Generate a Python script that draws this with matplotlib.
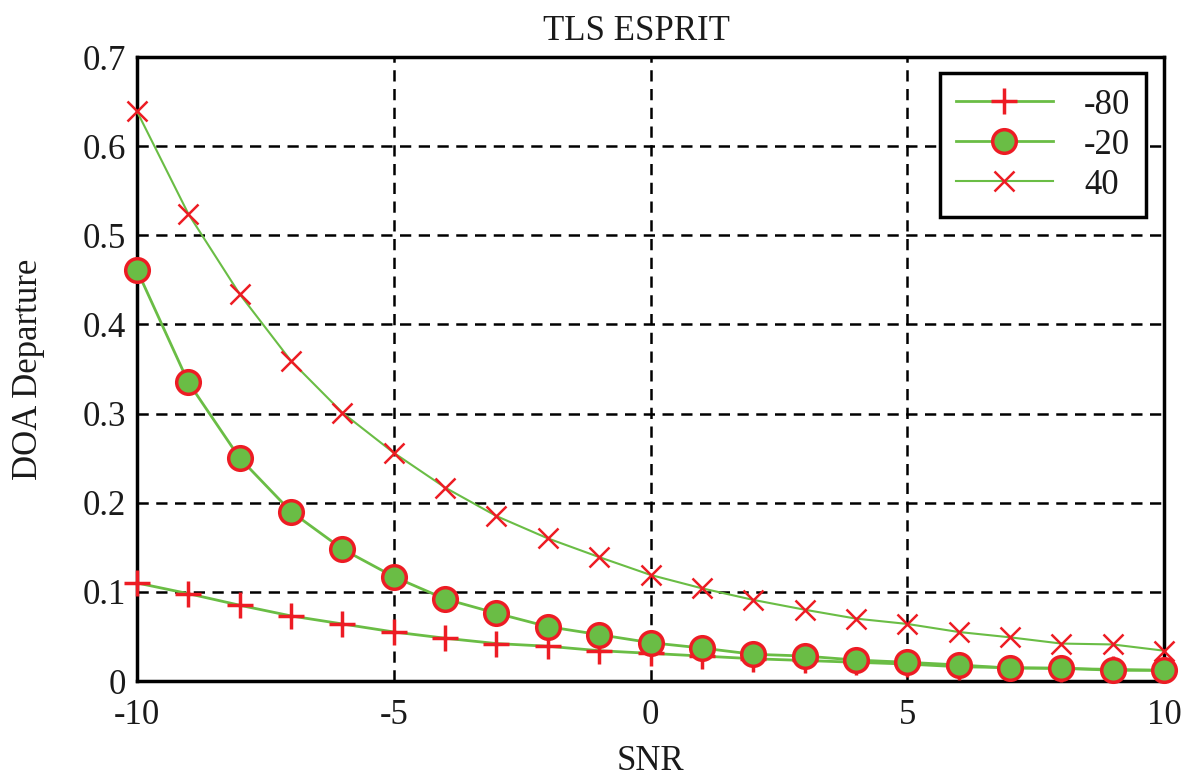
import matplotlib
matplotlib.use("Agg")
import matplotlib.pyplot as plt
import numpy as np

snr = [-10, -9, -8, -7, -6, -5, -4, -3, -2, -1, 0, 1, 2, 3, 4, 5, 6, 7, 8, 9, 10]
doa_m80 = [0.110, 0.098, 0.085, 0.073, 0.064, 0.055, 0.048, 0.042, 0.039, 0.034, 0.031,
           0.028, 0.025, 0.023, 0.021, 0.019, 0.016, 0.015, 0.014, 0.013, 0.012]
doa_m20 = [0.461, 0.335, 0.250, 0.190, 0.148, 0.117, 0.092, 0.076, 0.061, 0.052, 0.043,
           0.037, 0.030, 0.028, 0.0235, 0.021, 0.018, 0.0145, 0.0145, 0.012, 0.012]
doa_p40 = [0.639, 0.524, 0.434, 0.359, 0.301, 0.256, 0.217, 0.185, 0.160, 0.139, 0.119,
           0.104, 0.091, 0.080, 0.070, 0.064, 0.055, 0.049, 0.042, 0.041, 0.034]
labels = ["-80", "-20", "40"]
xticks = [-10, -5, 0, 5, 10]
yticks = [0, 0.1, 0.2, 0.3, 0.4, 0.5, 0.6, 0.7]

plt.rcParams['font.family'] = ['Liberation Serif', 'DejaVu Serif']
plt.rcParams['axes.unicode_minus'] = False

GREEN = '#6abd45'
RED = '#ed1c24'
FS = 25
TXT = '#1a1a1a'

fig = plt.figure(figsize=(11.89, 7.77), dpi=100)
ax = fig.add_axes([137/1189, 1-681/777, (1164-137)/1189, (681-57)/777])

ax.plot(snr, doa_m80, color=GREEN, lw=2, marker='+', ms=19, mec=RED, mew=2.5,
        label=labels[0], clip_on=False, zorder=3)
ax.plot(snr, doa_m20, color=GREEN, lw=2, marker='o', ms=17, mec=RED, mfc=GREEN, mew=2.5,
        label=labels[1], clip_on=False, zorder=3)
ax.plot(snr, doa_p40, color=GREEN, lw=1.5, marker='x', ms=14, mec=RED, mew=1.8,
        label=labels[2], clip_on=False, zorder=3)

ax.set_xlim(-10, 10)
ax.set_ylim(0, 0.7)
ax.set_xticks(xticks)
ax.set_xticklabels([str(t) for t in xticks])
ax.set_yticks(yticks)
ax.set_yticklabels(['0' if t == 0 else f'{t:g}' for t in yticks])
ax.tick_params(axis='both', length=0, labelsize=FS, colors=TXT)
ax.tick_params(axis='x', pad=13)
ax.tick_params(axis='y', pad=8)

ax.grid(True, color='black', linestyle=(0, (4.5, 3)), linewidth=1.8)
ax.set_axisbelow(True)
for s in ax.spines.values():
    s.set_linewidth(2.5)
    s.set_color('black')

ax.set_title('TLS ESPRIT', fontsize=FS, pad=12, color=TXT, x=(636-137)/1027)
ax.set_xlabel('SNR', fontsize=FS, labelpad=9, color=TXT)
ax.set_ylabel('DOA Departure', fontsize=FS, labelpad=27, color=TXT)

leg = ax.legend(loc='upper right', bbox_to_anchor=(1146/1189, 1-73/777),
                bbox_transform=fig.transFigure, fontsize=FS, fancybox=False,
                framealpha=1, edgecolor='black', handlelength=2.8,
                borderpad=0.45, labelspacing=0.2, handletextpad=0.9,
                borderaxespad=0)
leg.get_frame().set_linewidth(2.5)
for t in leg.get_texts():
    t.set_color(TXT)

fig.savefig('out.png', dpi=100)
